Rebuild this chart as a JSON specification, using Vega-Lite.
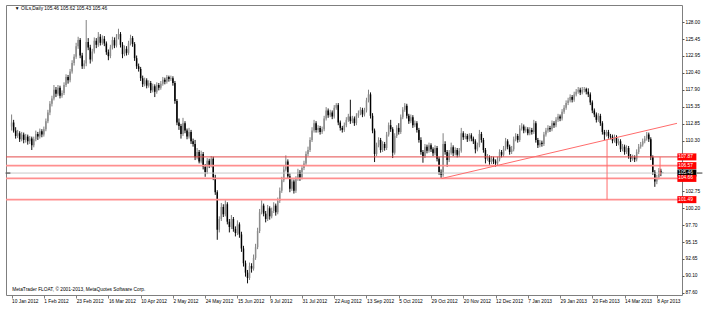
{
"$schema":"https://vega.github.io/schema/vega-lite/v6.json",
"width":676,"height":290,
"autosize":{"type":"none"},
"padding":{"left":6,"top":5,"right":27,"bottom":15},
"background":"#ffffff",
"config":{"view":{"stroke":"#7f7f7f","strokeWidth":1},"font":"Liberation Sans",
 "axis":{"labelOverlap":false,"labelFlush":false,"labelBound":false,"labelFontSize":4.8,"labelColor":"#000000","grid":false,"domain":false,"labelSeparation":0,"tickCount":100}},
"datasets":{
"one":[{}],
"bars":[
{"i":0,"o":112.4,"h":114.2,"l":111.8,"c":113.0},{"i":1,"o":113.0,"h":113.4,"l":111.5,"c":111.8},{"i":2,"o":111.8,"h":112.3,"l":110.6,"c":111.0},{"i":3,"o":111.0,"h":111.9,"l":110.7,"c":111.4},{"i":4,"o":111.4,"h":111.7,"l":110.1,"c":110.5},{"i":5,"o":110.5,"h":111.6,"l":110.2,"c":111.2},{"i":6,"o":111.2,"h":111.5,"l":109.9,"c":110.4},{"i":7,"o":110.4,"h":111.3,"l":110.0,"c":110.9},{"i":8,"o":110.9,"h":111.2,"l":109.7,"c":110.2},{"i":9,"o":110.2,"h":111.0,"l":109.8,"c":110.6},
{"i":10,"o":110.6,"h":110.9,"l":108.9,"c":109.6},{"i":11,"o":109.6,"h":110.9,"l":109.3,"c":110.5},{"i":12,"o":110.5,"h":111.8,"l":110.2,"c":111.3},{"i":13,"o":111.3,"h":111.6,"l":110.4,"c":110.9},{"i":14,"o":110.9,"h":112.1,"l":110.6,"c":111.7},{"i":15,"o":111.7,"h":112.0,"l":110.8,"c":111.2},{"i":16,"o":111.2,"h":112.4,"l":110.9,"c":112.0},{"i":17,"o":112.0,"h":113.6,"l":111.7,"c":113.2},{"i":18,"o":113.2,"h":114.9,"l":112.9,"c":114.5},{"i":19,"o":114.5,"h":116.2,"l":114.1,"c":115.8},
{"i":20,"o":115.8,"h":117.0,"l":115.4,"c":116.6},{"i":21,"o":116.6,"h":118.6,"l":116.3,"c":117.9},{"i":22,"o":117.9,"h":118.3,"l":116.8,"c":117.3},{"i":23,"o":117.3,"h":118.6,"l":117.0,"c":118.2},{"i":24,"o":118.2,"h":118.5,"l":116.6,"c":117.0},{"i":25,"o":117.0,"h":117.8,"l":116.7,"c":117.4},{"i":26,"o":117.4,"h":119.0,"l":117.1,"c":118.6},{"i":27,"o":118.6,"h":120.2,"l":118.3,"c":119.8},{"i":28,"o":119.8,"h":120.1,"l":118.8,"c":119.3},{"i":29,"o":119.3,"h":121.0,"l":119.0,"c":120.6},
{"i":30,"o":120.6,"h":122.3,"l":120.3,"c":121.9},{"i":31,"o":121.9,"h":123.2,"l":121.5,"c":122.8},{"i":32,"o":122.8,"h":124.9,"l":122.5,"c":124.4},{"i":33,"o":124.4,"h":125.8,"l":124.0,"c":125.3},{"i":34,"o":125.3,"h":125.6,"l":122.6,"c":123.0},{"i":35,"o":123.0,"h":123.4,"l":121.0,"c":121.4},{"i":36,"o":121.4,"h":122.3,"l":121.0,"c":121.8},{"i":37,"o":121.8,"h":128.3,"l":121.4,"c":125.0},{"i":38,"o":125.0,"h":125.6,"l":123.8,"c":124.2},{"i":39,"o":124.2,"h":124.6,"l":121.8,"c":122.4},
{"i":40,"o":122.4,"h":124.0,"l":122.1,"c":123.6},{"i":41,"o":123.6,"h":125.7,"l":123.3,"c":125.2},{"i":42,"o":125.2,"h":125.6,"l":124.1,"c":124.6},{"i":43,"o":124.6,"h":126.5,"l":124.3,"c":125.8},{"i":44,"o":125.8,"h":126.2,"l":124.5,"c":124.9},{"i":45,"o":124.9,"h":126.0,"l":124.6,"c":125.5},{"i":46,"o":125.5,"h":125.9,"l":124.4,"c":124.8},{"i":47,"o":124.8,"h":125.1,"l":123.1,"c":123.5},{"i":48,"o":123.5,"h":123.9,"l":122.3,"c":122.9},{"i":49,"o":122.9,"h":124.6,"l":122.6,"c":124.2},
{"i":50,"o":124.2,"h":125.8,"l":123.9,"c":125.3},{"i":51,"o":125.3,"h":125.7,"l":124.1,"c":124.5},{"i":52,"o":124.5,"h":126.2,"l":124.2,"c":125.8},{"i":53,"o":125.8,"h":127.0,"l":125.4,"c":126.2},{"i":54,"o":126.2,"h":126.5,"l":124.2,"c":124.6},{"i":55,"o":124.6,"h":125.0,"l":122.6,"c":123.2},{"i":56,"o":123.2,"h":124.5,"l":122.9,"c":124.0},{"i":57,"o":124.0,"h":124.4,"l":123.0,"c":123.4},{"i":58,"o":123.4,"h":125.2,"l":123.1,"c":124.8},{"i":59,"o":124.8,"h":126.1,"l":124.5,"c":125.6},
{"i":60,"o":125.6,"h":125.9,"l":124.3,"c":124.7},{"i":61,"o":124.7,"h":125.0,"l":122.2,"c":122.6},{"i":62,"o":122.6,"h":123.0,"l":121.0,"c":121.4},{"i":63,"o":121.4,"h":121.8,"l":120.6,"c":121.0},{"i":64,"o":121.0,"h":121.3,"l":119.2,"c":119.6},{"i":65,"o":119.6,"h":120.0,"l":118.3,"c":118.7},{"i":66,"o":118.7,"h":119.7,"l":118.4,"c":119.3},{"i":67,"o":119.3,"h":119.6,"l":118.1,"c":118.5},{"i":68,"o":118.5,"h":119.3,"l":118.2,"c":118.9},{"i":69,"o":118.9,"h":119.2,"l":117.4,"c":117.8},
{"i":70,"o":117.8,"h":118.8,"l":117.5,"c":118.4},{"i":71,"o":118.4,"h":118.7,"l":116.8,"c":117.6},{"i":72,"o":117.6,"h":119.0,"l":117.3,"c":118.6},{"i":73,"o":118.6,"h":118.9,"l":117.8,"c":118.2},{"i":74,"o":118.2,"h":119.2,"l":117.9,"c":118.8},{"i":75,"o":118.8,"h":119.8,"l":118.5,"c":119.4},{"i":76,"o":119.4,"h":119.7,"l":118.7,"c":119.1},{"i":77,"o":119.1,"h":120.1,"l":118.8,"c":119.8},{"i":78,"o":119.8,"h":120.0,"l":119.1,"c":119.5},{"i":79,"o":119.5,"h":120.0,"l":119.2,"c":119.6},
{"i":80,"o":119.6,"h":119.9,"l":118.5,"c":118.9},{"i":81,"o":118.9,"h":119.2,"l":115.8,"c":116.2},{"i":82,"o":116.2,"h":116.5,"l":112.6,"c":113.0},{"i":83,"o":113.0,"h":113.6,"l":111.9,"c":112.5},{"i":84,"o":112.5,"h":112.8,"l":110.6,"c":111.3},{"i":85,"o":111.3,"h":113.7,"l":111.0,"c":112.9},{"i":86,"o":112.9,"h":113.2,"l":111.4,"c":111.8},{"i":87,"o":111.8,"h":112.1,"l":110.5,"c":110.9},{"i":88,"o":110.9,"h":112.2,"l":110.6,"c":111.6},{"i":89,"o":111.6,"h":111.9,"l":109.8,"c":110.2},
{"i":90,"o":110.2,"h":110.6,"l":109.4,"c":109.8},{"i":91,"o":109.8,"h":110.4,"l":107.4,"c":107.8},{"i":92,"o":107.8,"h":109.2,"l":107.5,"c":108.6},{"i":93,"o":108.6,"h":108.9,"l":106.9,"c":107.2},{"i":94,"o":107.2,"h":108.8,"l":106.9,"c":108.3},{"i":95,"o":108.3,"h":108.6,"l":106.0,"c":106.4},{"i":96,"o":106.4,"h":106.8,"l":104.9,"c":105.6},{"i":97,"o":105.6,"h":107.7,"l":105.3,"c":107.3},{"i":98,"o":107.3,"h":107.6,"l":106.2,"c":106.6},{"i":99,"o":106.6,"h":108.0,"l":106.3,"c":107.6},
{"i":100,"o":107.6,"h":107.9,"l":104.4,"c":104.8},{"i":101,"o":104.8,"h":105.2,"l":102.2,"c":102.6},{"i":102,"o":102.6,"h":102.9,"l":95.5,"c":97.0},{"i":103,"o":97.0,"h":99.0,"l":96.6,"c":98.6},{"i":104,"o":98.6,"h":101.0,"l":98.3,"c":100.4},{"i":105,"o":100.4,"h":100.8,"l":98.9,"c":99.3},{"i":106,"o":99.3,"h":101.4,"l":99.0,"c":100.8},{"i":107,"o":100.8,"h":101.1,"l":97.8,"c":98.2},{"i":108,"o":98.2,"h":98.6,"l":96.6,"c":97.4},{"i":109,"o":97.4,"h":99.2,"l":97.1,"c":98.6},
{"i":110,"o":98.6,"h":98.9,"l":96.7,"c":97.1},{"i":111,"o":97.1,"h":97.5,"l":96.0,"c":96.5},{"i":112,"o":96.5,"h":98.4,"l":96.2,"c":97.8},{"i":113,"o":97.8,"h":98.1,"l":95.8,"c":96.3},{"i":114,"o":96.3,"h":96.7,"l":93.7,"c":94.2},{"i":115,"o":94.2,"h":94.6,"l":91.5,"c":92.0},{"i":116,"o":92.0,"h":92.4,"l":90.0,"c":90.6},{"i":117,"o":90.6,"h":91.0,"l":89.0,"c":89.8},{"i":118,"o":89.8,"h":92.1,"l":89.5,"c":91.6},{"i":119,"o":91.6,"h":92.0,"l":90.6,"c":91.2},
{"i":120,"o":91.2,"h":93.3,"l":90.9,"c":92.8},{"i":121,"o":92.8,"h":94.9,"l":92.5,"c":94.4},{"i":122,"o":94.4,"h":97.3,"l":94.1,"c":96.8},{"i":123,"o":96.8,"h":100.1,"l":96.5,"c":99.6},{"i":124,"o":99.6,"h":101.4,"l":99.3,"c":100.6},{"i":125,"o":100.6,"h":100.9,"l":99.0,"c":99.4},{"i":126,"o":99.4,"h":99.8,"l":98.1,"c":98.6},{"i":127,"o":98.6,"h":100.7,"l":98.3,"c":100.2},{"i":128,"o":100.2,"h":100.5,"l":98.5,"c":99.0},{"i":129,"o":99.0,"h":100.3,"l":98.7,"c":99.8},
{"i":130,"o":99.8,"h":101.1,"l":99.5,"c":100.6},{"i":131,"o":100.6,"h":100.9,"l":99.1,"c":99.6},{"i":132,"o":99.6,"h":101.8,"l":99.3,"c":101.3},{"i":133,"o":101.3,"h":103.3,"l":101.0,"c":102.8},{"i":134,"o":102.8,"h":104.9,"l":102.5,"c":104.4},{"i":135,"o":104.4,"h":106.5,"l":104.1,"c":106.0},{"i":136,"o":106.0,"h":108.1,"l":105.7,"c":107.2},{"i":137,"o":107.2,"h":107.5,"l":104.6,"c":105.0},{"i":138,"o":105.0,"h":105.4,"l":102.6,"c":103.1},{"i":139,"o":103.1,"h":104.7,"l":102.8,"c":104.2},
{"i":140,"o":104.2,"h":104.5,"l":102.4,"c":102.8},{"i":141,"o":102.8,"h":105.0,"l":102.5,"c":104.6},{"i":142,"o":104.6,"h":106.1,"l":104.3,"c":105.6},{"i":143,"o":105.6,"h":105.9,"l":104.3,"c":104.8},{"i":144,"o":104.8,"h":106.6,"l":104.5,"c":106.2},{"i":145,"o":106.2,"h":107.3,"l":105.9,"c":106.9},{"i":146,"o":106.9,"h":108.7,"l":106.6,"c":108.3},{"i":147,"o":108.3,"h":109.4,"l":108.0,"c":108.9},{"i":148,"o":108.9,"h":110.8,"l":108.6,"c":110.4},{"i":149,"o":110.4,"h":112.3,"l":110.1,"c":111.8},
{"i":150,"o":111.8,"h":113.4,"l":111.5,"c":112.9},{"i":151,"o":112.9,"h":113.2,"l":111.5,"c":111.9},{"i":152,"o":111.9,"h":112.6,"l":111.5,"c":112.2},{"i":153,"o":112.2,"h":112.5,"l":111.2,"c":111.6},{"i":154,"o":111.6,"h":112.4,"l":111.3,"c":112.0},{"i":155,"o":112.0,"h":114.0,"l":111.7,"c":113.6},{"i":156,"o":113.6,"h":115.3,"l":113.3,"c":114.8},{"i":157,"o":114.8,"h":115.1,"l":113.7,"c":114.1},{"i":158,"o":114.1,"h":114.9,"l":113.8,"c":114.5},{"i":159,"o":114.5,"h":114.8,"l":113.5,"c":113.9},
{"i":160,"o":113.9,"h":115.6,"l":113.6,"c":115.2},{"i":161,"o":115.2,"h":115.9,"l":114.9,"c":115.6},{"i":162,"o":115.6,"h":115.9,"l":112.6,"c":113.0},{"i":163,"o":113.0,"h":113.3,"l":111.8,"c":112.2},{"i":164,"o":112.2,"h":112.5,"l":111.5,"c":111.9},{"i":165,"o":111.9,"h":113.0,"l":111.6,"c":112.6},{"i":166,"o":112.6,"h":113.8,"l":112.3,"c":113.4},{"i":167,"o":113.4,"h":114.3,"l":113.1,"c":113.9},{"i":168,"o":113.9,"h":116.4,"l":112.8,"c":113.2},{"i":169,"o":113.2,"h":114.0,"l":112.9,"c":113.6},
{"i":170,"o":113.6,"h":113.9,"l":112.5,"c":112.9},{"i":171,"o":112.9,"h":114.4,"l":112.6,"c":114.0},{"i":172,"o":114.0,"h":114.8,"l":113.7,"c":114.4},{"i":173,"o":114.4,"h":115.3,"l":114.1,"c":114.9},{"i":174,"o":114.9,"h":115.2,"l":113.8,"c":114.2},{"i":175,"o":114.2,"h":115.2,"l":113.9,"c":114.8},{"i":176,"o":114.8,"h":116.7,"l":114.5,"c":116.3},{"i":177,"o":116.3,"h":117.9,"l":116.0,"c":117.2},{"i":178,"o":117.2,"h":117.5,"l":113.6,"c":114.0},{"i":179,"o":114.0,"h":114.4,"l":111.4,"c":111.8},
{"i":180,"o":111.8,"h":112.1,"l":107.1,"c":108.3},{"i":181,"o":108.3,"h":110.0,"l":108.0,"c":109.6},{"i":182,"o":109.6,"h":110.8,"l":109.3,"c":110.4},{"i":183,"o":110.4,"h":110.7,"l":108.5,"c":108.9},{"i":184,"o":108.9,"h":110.2,"l":108.6,"c":109.8},{"i":185,"o":109.8,"h":110.1,"l":108.8,"c":109.2},{"i":186,"o":109.2,"h":111.6,"l":108.9,"c":111.2},{"i":187,"o":111.2,"h":113.0,"l":110.9,"c":112.6},{"i":188,"o":112.6,"h":113.4,"l":111.6,"c":112.0},{"i":189,"o":112.0,"h":112.3,"l":107.7,"c":108.5},
{"i":190,"o":108.5,"h":111.4,"l":108.2,"c":111.0},{"i":191,"o":111.0,"h":112.6,"l":110.7,"c":112.2},{"i":192,"o":112.2,"h":112.9,"l":111.2,"c":111.6},{"i":193,"o":111.6,"h":114.2,"l":111.3,"c":113.8},{"i":194,"o":113.8,"h":115.3,"l":113.5,"c":114.9},{"i":195,"o":114.9,"h":115.9,"l":114.6,"c":115.5},{"i":196,"o":115.5,"h":115.8,"l":113.6,"c":114.0},{"i":197,"o":114.0,"h":114.3,"l":112.8,"c":113.2},{"i":198,"o":113.2,"h":114.2,"l":112.9,"c":113.8},{"i":199,"o":113.8,"h":114.1,"l":112.2,"c":112.6},
{"i":200,"o":112.6,"h":113.3,"l":112.3,"c":112.9},{"i":201,"o":112.9,"h":113.2,"l":111.5,"c":111.9},{"i":202,"o":111.9,"h":112.2,"l":110.0,"c":110.4},{"i":203,"o":110.4,"h":110.8,"l":108.2,"c":108.6},{"i":204,"o":108.6,"h":108.9,"l":107.0,"c":108.0},{"i":205,"o":108.0,"h":109.8,"l":107.7,"c":109.4},{"i":206,"o":109.4,"h":109.7,"l":108.4,"c":108.8},{"i":207,"o":108.8,"h":110.0,"l":108.5,"c":109.6},{"i":208,"o":109.6,"h":109.9,"l":108.6,"c":109.0},{"i":209,"o":109.0,"h":109.3,"l":108.0,"c":108.4},
{"i":210,"o":108.4,"h":109.6,"l":108.1,"c":109.2},{"i":211,"o":109.2,"h":109.5,"l":107.2,"c":107.6},{"i":212,"o":107.6,"h":107.9,"l":105.2,"c":105.6},{"i":213,"o":105.6,"h":106.0,"l":104.64,"c":105.2},{"i":214,"o":105.2,"h":111.4,"l":104.9,"c":109.8},{"i":215,"o":109.8,"h":110.2,"l":108.2,"c":108.6},{"i":216,"o":108.6,"h":108.9,"l":106.4,"c":107.4},{"i":217,"o":107.4,"h":108.9,"l":107.1,"c":108.5},{"i":218,"o":108.5,"h":110.0,"l":108.2,"c":109.3},{"i":219,"o":109.3,"h":109.6,"l":108.0,"c":108.4},
{"i":220,"o":108.4,"h":109.3,"l":108.1,"c":108.9},{"i":221,"o":108.9,"h":109.2,"l":107.8,"c":108.2},{"i":222,"o":108.2,"h":109.2,"l":107.9,"c":108.8},{"i":223,"o":108.8,"h":112.2,"l":108.5,"c":111.4},{"i":224,"o":111.4,"h":111.7,"l":110.4,"c":110.8},{"i":225,"o":110.8,"h":111.4,"l":110.5,"c":111.0},{"i":226,"o":111.0,"h":111.3,"l":110.1,"c":110.5},{"i":227,"o":110.5,"h":111.4,"l":110.2,"c":111.1},{"i":228,"o":111.1,"h":111.4,"l":110.2,"c":110.6},{"i":229,"o":110.6,"h":110.9,"l":109.8,"c":110.2},
{"i":230,"o":110.2,"h":110.5,"l":108.4,"c":109.0},{"i":231,"o":109.0,"h":110.0,"l":108.7,"c":109.6},{"i":232,"o":109.6,"h":111.9,"l":109.3,"c":111.3},{"i":233,"o":111.3,"h":111.6,"l":110.0,"c":110.4},{"i":234,"o":110.4,"h":110.7,"l":108.5,"c":108.9},{"i":235,"o":108.9,"h":109.2,"l":106.9,"c":107.6},{"i":236,"o":107.6,"h":108.3,"l":107.3,"c":107.8},{"i":237,"o":107.8,"h":108.1,"l":106.7,"c":107.1},{"i":238,"o":107.1,"h":108.0,"l":106.8,"c":107.6},{"i":239,"o":107.6,"h":107.9,"l":106.8,"c":107.2},
{"i":240,"o":107.2,"h":107.5,"l":106.4,"c":106.9},{"i":241,"o":106.9,"h":107.9,"l":106.6,"c":107.5},{"i":242,"o":107.5,"h":109.0,"l":107.2,"c":108.6},{"i":243,"o":108.6,"h":108.9,"l":107.8,"c":108.2},{"i":244,"o":108.2,"h":109.5,"l":107.9,"c":109.1},{"i":245,"o":109.1,"h":110.7,"l":108.8,"c":110.2},{"i":246,"o":110.2,"h":110.5,"l":109.0,"c":109.4},{"i":247,"o":109.4,"h":109.7,"l":108.2,"c":108.6},{"i":248,"o":108.6,"h":109.5,"l":108.3,"c":109.0},{"i":249,"o":109.0,"h":110.9,"l":108.7,"c":110.5},
{"i":250,"o":110.5,"h":111.4,"l":110.2,"c":111.0},{"i":251,"o":111.0,"h":111.3,"l":110.0,"c":110.4},{"i":252,"o":110.4,"h":112.6,"l":110.1,"c":112.1},{"i":253,"o":112.1,"h":112.9,"l":111.8,"c":112.4},{"i":254,"o":112.4,"h":112.7,"l":111.4,"c":111.8},{"i":255,"o":111.8,"h":112.4,"l":111.5,"c":112.0},{"i":256,"o":112.0,"h":112.3,"l":111.1,"c":111.4},{"i":257,"o":111.4,"h":112.3,"l":111.1,"c":111.9},{"i":258,"o":111.9,"h":112.2,"l":111.2,"c":111.6},{"i":259,"o":111.6,"h":113.4,"l":111.3,"c":112.9},
{"i":260,"o":112.9,"h":113.2,"l":110.0,"c":110.4},{"i":261,"o":110.4,"h":110.7,"l":109.2,"c":109.6},{"i":262,"o":109.6,"h":110.4,"l":109.3,"c":110.0},{"i":263,"o":110.0,"h":110.3,"l":109.4,"c":109.8},{"i":264,"o":109.8,"h":111.6,"l":109.5,"c":111.2},{"i":265,"o":111.2,"h":112.2,"l":110.9,"c":111.8},{"i":266,"o":111.8,"h":112.6,"l":111.5,"c":112.2},{"i":267,"o":112.2,"h":112.5,"l":111.6,"c":112.0},{"i":268,"o":112.0,"h":113.3,"l":111.7,"c":112.9},{"i":269,"o":112.9,"h":113.2,"l":112.2,"c":112.6},
{"i":270,"o":112.6,"h":113.8,"l":112.3,"c":113.4},{"i":271,"o":113.4,"h":114.3,"l":113.1,"c":113.9},{"i":272,"o":113.9,"h":114.2,"l":113.2,"c":113.6},{"i":273,"o":113.6,"h":115.0,"l":113.3,"c":114.6},{"i":274,"o":114.6,"h":115.6,"l":114.3,"c":115.2},{"i":275,"o":115.2,"h":116.3,"l":114.9,"c":115.9},{"i":276,"o":115.9,"h":116.7,"l":115.6,"c":116.3},{"i":277,"o":116.3,"h":117.2,"l":116.0,"c":116.8},{"i":278,"o":116.8,"h":117.1,"l":116.0,"c":116.4},{"i":279,"o":116.4,"h":117.6,"l":116.1,"c":117.2},
{"i":280,"o":117.2,"h":118.0,"l":116.9,"c":117.6},{"i":281,"o":117.6,"h":118.3,"l":117.3,"c":117.9},{"i":282,"o":117.9,"h":118.2,"l":117.1,"c":117.5},{"i":283,"o":117.5,"h":118.3,"l":117.2,"c":117.9},{"i":284,"o":117.9,"h":118.3,"l":117.5,"c":118.0},{"i":285,"o":118.0,"h":118.2,"l":117.2,"c":117.6},{"i":286,"o":117.6,"h":118.1,"l":116.8,"c":117.2},{"i":287,"o":117.2,"h":117.5,"l":115.6,"c":116.0},{"i":288,"o":116.0,"h":116.3,"l":114.4,"c":114.8},{"i":289,"o":114.8,"h":115.1,"l":113.8,"c":114.2},
{"i":290,"o":114.2,"h":114.5,"l":113.0,"c":113.4},{"i":291,"o":113.4,"h":114.4,"l":113.1,"c":114.0},{"i":292,"o":114.0,"h":114.3,"l":112.5,"c":112.9},{"i":293,"o":112.9,"h":113.2,"l":111.2,"c":111.6},{"i":294,"o":111.6,"h":111.9,"l":110.4,"c":111.2},{"i":295,"o":111.2,"h":111.9,"l":110.9,"c":111.6},{"i":296,"o":111.6,"h":111.9,"l":110.6,"c":111.0},{"i":297,"o":111.0,"h":111.3,"l":110.5,"c":110.9},{"i":298,"o":110.9,"h":111.2,"l":109.9,"c":110.3},{"i":299,"o":110.3,"h":111.2,"l":110.0,"c":110.8},
{"i":300,"o":110.8,"h":111.1,"l":109.5,"c":109.9},{"i":301,"o":109.9,"h":110.6,"l":109.6,"c":110.2},{"i":302,"o":110.2,"h":110.5,"l":108.6,"c":109.0},{"i":303,"o":109.0,"h":109.8,"l":108.7,"c":109.4},{"i":304,"o":109.4,"h":109.7,"l":108.2,"c":108.6},{"i":305,"o":108.6,"h":109.6,"l":108.3,"c":109.2},{"i":306,"o":109.2,"h":109.5,"l":107.6,"c":108.0},{"i":307,"o":108.0,"h":108.3,"l":107.1,"c":107.6},{"i":308,"o":107.6,"h":108.2,"l":107.3,"c":107.8},{"i":309,"o":107.8,"h":108.1,"l":107.1,"c":107.5},
{"i":310,"o":107.5,"h":109.0,"l":107.2,"c":108.6},{"i":311,"o":108.6,"h":109.8,"l":108.3,"c":109.4},{"i":312,"o":109.4,"h":110.1,"l":109.1,"c":109.7},{"i":313,"o":109.7,"h":110.6,"l":109.4,"c":110.2},{"i":314,"o":110.2,"h":111.0,"l":109.9,"c":110.6},{"i":315,"o":110.6,"h":111.6,"l":110.3,"c":111.2},{"i":316,"o":111.2,"h":111.5,"l":110.1,"c":110.5},{"i":317,"o":110.5,"h":110.8,"l":107.4,"c":107.8},{"i":318,"o":107.8,"h":108.1,"l":105.2,"c":105.6},{"i":319,"o":105.6,"h":105.9,"l":103.4,"c":104.2},
{"i":320,"o":104.2,"h":105.2,"l":103.8,"c":104.8},{"i":321,"o":104.8,"h":106.2,"l":104.5,"c":105.8},{"i":322,"o":105.8,"h":106.1,"l":105.0,"c":105.4},{"i":323,"o":105.46,"h":105.62,"l":105.43,"c":105.46}
],
"tags":[{"p":107.87,"t":"107.87"},{"p":106.57,"t":"106.57"},{"p":105.46,"t":"105.46"},{"p":104.66,"t":"104.66"},{"p":101.49,"t":"101.49"}]
},
"layer":[
{"data":{"name":"bars"},"mark":{"type":"rule","strokeWidth":1},
 "encoding":{
  "x":{"field":"i","type":"quantitative","title":null,"scale":{"domain":[-0.3,330],"nice":false,"zero":false},
   "axis":{"orient":"bottom","values":[0,16,32,48,64,80,96,112,128,144,160,176,192,208,224,240,256,272,288,304,320],"tickCount":100,
    "labelExpr":"['10 Jan 2012','1 Feb 2012','23 Feb 2012','16 Mar 2012','10 Apr 2012','2 May 2012','24 May 2012','15 Jun 2012','9 Jul 2012','31 Jul 2012','22 Aug 2012','13 Sep 2012','5 Oct 2012','29 Oct 2012','20 Nov 2012','12 Dec 2012','7 Jan 2013','29 Jan 2013','20 Feb 2013','14 Mar 2013','8 Apr 2013'][round(datum.value/16)]",
    "labelAlign":"left","labelFontSize":4.8,"labelColor":"#000000","labelPadding":0,"labelDx":1,"tickSize":3,"tickColor":"#7f7f7f","domain":false,"grid":false,"labelOverlap":false,"labelFlush":false,"labelBound":false}},
  "y":{"field":"l","type":"quantitative","title":null,"scale":{"domain":[87.26,130.54],"nice":false,"zero":false},
   "axis":{"orient":"right","values":[87.6,90.1,92.65,95.15,97.7,100.2,102.75,110.3,112.85,115.35,117.9,120.4,122.95,125.45,128.0],"tickCount":100,
    "format":".2f","labelFontSize":4.8,"labelColor":"#000000","labelPadding":1,"tickSize":2,"tickColor":"#555555","domain":false,"grid":false,"labelOverlap":false,"labelFlush":false,"labelBound":false}},
  "y2":{"field":"h"},
  "color":{"condition":{"test":"datum.c >= datum.o","value":"#808080"},"value":"#111111"}
 }},
{"data":{"name":"bars"},"mark":{"type":"bar","size":1.5},
 "encoding":{
  "x":{"field":"i","type":"quantitative","title":null},
  "y":{"field":"o","type":"quantitative","title":null},
  "y2":{"field":"c"},
  "color":{"condition":{"test":"datum.c >= datum.o","value":"#8c8c8c"},"value":"#000000"}
 }},
{"data":{"name":"one"},"mark":{"type":"rule","color":"#c8c8c8","strokeWidth":1},"encoding":{"y":{"datum":105.46,"type":"quantitative","title":null}}},
{"data":{"name":"one"},"mark":{"type":"rule","color":"#e34b4b","strokeWidth":1},"encoding":{"y":{"datum":107.87,"type":"quantitative","title":null}}},
{"data":{"name":"one"},"mark":{"type":"rule","color":"#ff8f8f","strokeWidth":1.6},"encoding":{"y":{"datum":106.57,"type":"quantitative","title":null}}},
{"data":{"name":"one"},"mark":{"type":"rule","color":"#ff8f8f","strokeWidth":1.6},"encoding":{"y":{"datum":104.66,"type":"quantitative","title":null}}},
{"data":{"name":"one"},"mark":{"type":"rule","color":"#ff8f8f","strokeWidth":1.6},"encoding":{"y":{"datum":101.49,"type":"quantitative","title":null}}},
{"data":{"name":"one"},"mark":{"type":"rule","color":"#ff6b6b","strokeWidth":1},"encoding":{"x":{"datum":213.2,"type":"quantitative","title":null},"y":{"datum":104.64,"type":"quantitative","title":null},"x2":{"datum":330},"y2":{"datum":112.88}}},
{"data":{"name":"one"},"mark":{"type":"rule","color":"#ff6b6b","strokeWidth":1},"encoding":{"x":{"datum":295.3,"type":"quantitative","title":null},"y":{"datum":110.44,"type":"quantitative","title":null},"y2":{"datum":101.49}}},
{"data":{"name":"one"},"mark":{"type":"rule","color":"#ff6b6b","strokeWidth":1},"encoding":{"x":{"datum":321.6,"type":"quantitative","title":null},"y":{"datum":107.87,"type":"quantitative","title":null},"y2":{"datum":105.2}}},
{"data":{"name":"one"},"mark":{"type":"rule","color":"#333333","strokeWidth":1,"clip":false},"encoding":{"x":{"datum":-3,"type":"quantitative","title":null},"x2":{"datum":-0.6},"y":{"datum":105.46,"type":"quantitative","title":null}}},
{"data":{"name":"one"},"mark":{"type":"rule","color":"#333333","strokeWidth":1,"clip":false},"encoding":{"x":{"datum":339.8,"type":"quantitative","title":null},"x2":{"datum":342.6},"y":{"datum":105.46,"type":"quantitative","title":null}}},
{"data":{"name":"tags"},"mark":{"type":"tick","orient":"horizontal","size":19,"thickness":7,"opacity":1,"clip":false},
 "encoding":{"x":{"datum":334.9,"type":"quantitative","title":null},"y":{"field":"p","type":"quantitative","title":null},
  "color":{"condition":{"test":"datum.p == 105.46","value":"#000000"},"value":"#ff0000"}}},
{"data":{"name":"tags"},"mark":{"type":"text","align":"left","baseline":"middle","fontSize":4.8,"color":"#ffffff","clip":false},
 "encoding":{"x":{"datum":330.6,"type":"quantitative","title":null},"y":{"field":"p","type":"quantitative","title":null},"text":{"field":"t"}}},
{"data":{"name":"one"},"mark":{"type":"text","align":"left","baseline":"middle","fontSize":4.8,"color":"#000000"},
 "encoding":{"x":{"datum":1.6,"type":"quantitative","title":null},"y":{"datum":129.9,"type":"quantitative","title":null},"text":{"value":"▼ OILs,Daily  105.46 105.62 105.43 105.46"}}},
{"data":{"name":"one"},"mark":{"type":"text","align":"left","baseline":"middle","fontSize":4.8,"color":"#000000"},
 "encoding":{"x":{"datum":0.3,"type":"quantitative","title":null},"y":{"datum":88.0,"type":"quantitative","title":null},"text":{"value":"MetaTrader FLOAT, © 2001-2013, MetaQuotes Software Corp."}}}
]
}
